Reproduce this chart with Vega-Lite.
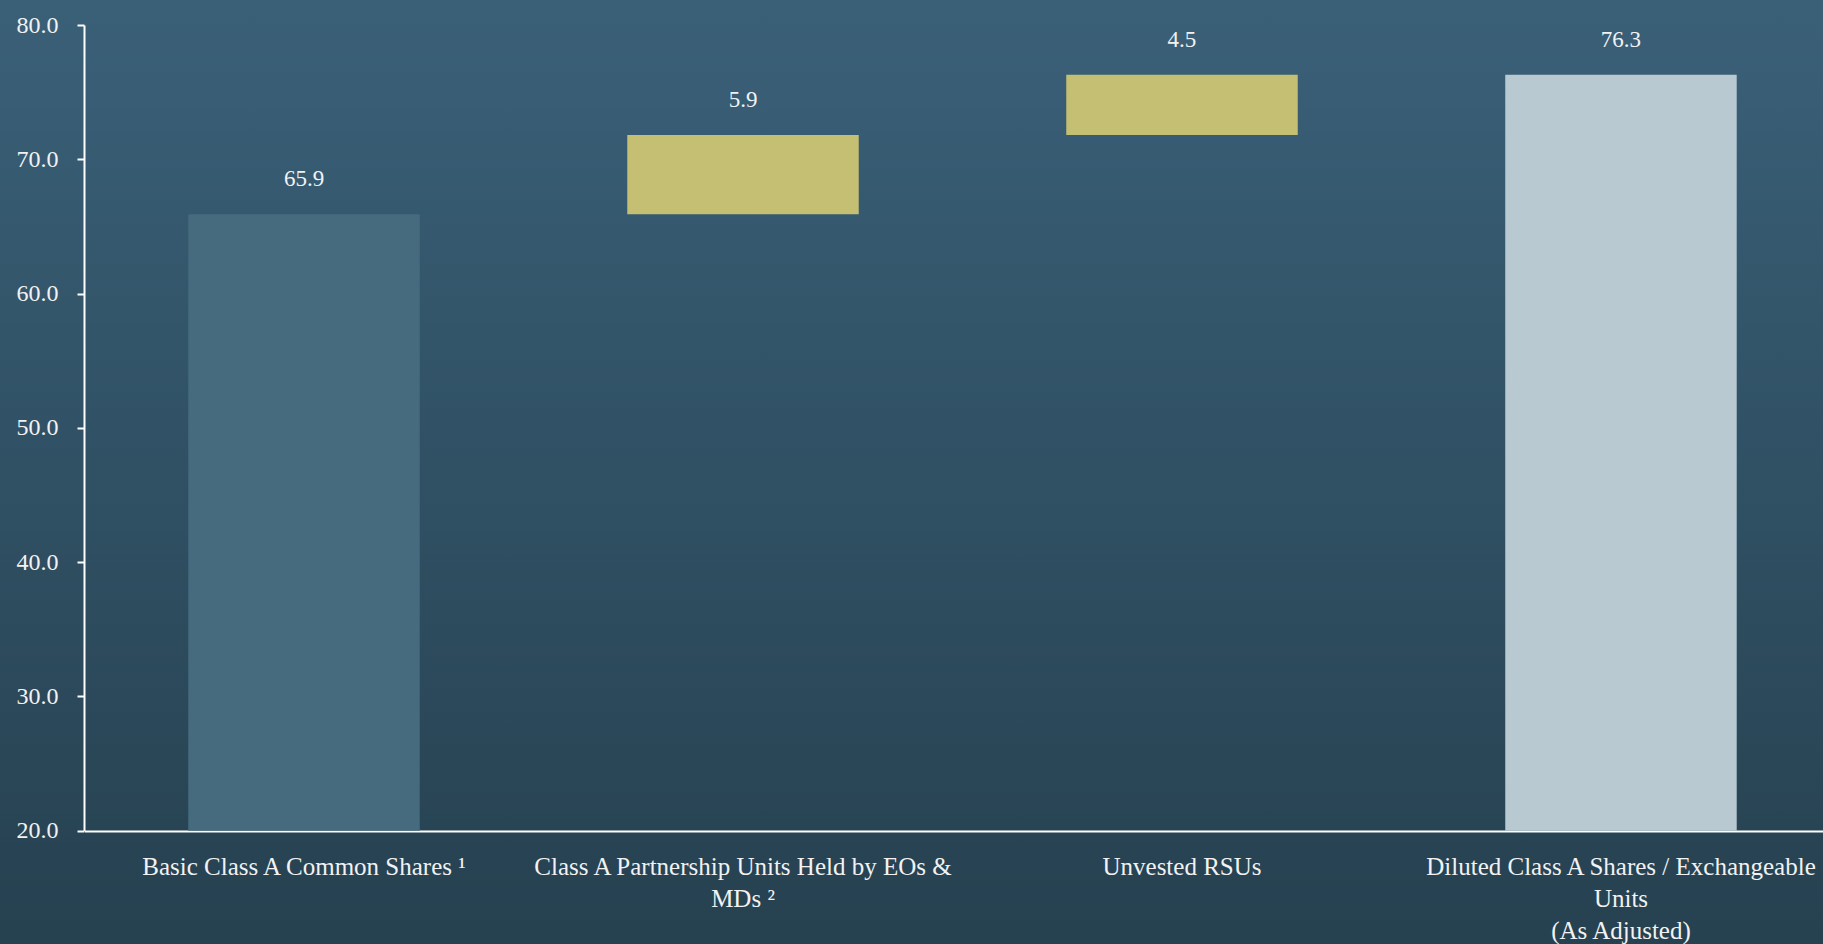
{
  "$schema": "https://vega.github.io/schema/vega-lite/v6.json",
  "width": 1823,
  "height": 944,
  "autosize": {"type": "none"},
  "padding": 0,
  "background": "#2f4f63",
  "view": {
    "stroke": null,
    "fill": {
      "gradient": "linear",
      "x1": 0, "y1": 0, "x2": 0, "y2": 1,
      "stops": [
        {"offset": 0, "color": "#3a6078"},
        {"offset": 1, "color": "#264150"}
      ]
    }
  },
  "config": {"font": "Liberation Serif, serif"},
  "data": {
    "values": [
      {"category": "Basic Class A Common Shares ¹", "start": 0, "end": 65.9, "value": 65.9, "kind": "base"},
      {"category": "Class A Partnership Units Held by EOs &|MDs ²", "start": 65.9, "end": 71.8, "value": 5.9, "kind": "increase"},
      {"category": "Unvested RSUs", "start": 71.8, "end": 76.3, "value": 4.5, "kind": "increase"},
      {"category": "Diluted Class A Shares / Exchangeable|Units|(As Adjusted)", "start": 0, "end": 76.3, "value": 76.3, "kind": "total"}
    ]
  },
  "encoding": {
    "x": {
      "field": "category",
      "type": "nominal",
      "sort": null,
      "scale": {"type": "band", "range": [84.5, 1840.5], "paddingInner": 0.4727, "paddingOuter": 0.2364},
      "axis": {
        "orient": "bottom",
        "offset": -113,
        "title": null,
        "ticks": false,
        "domainColor": "#ffffff",
        "domainWidth": 2,
        "labelColor": "#f2f2f2",
        "labelFont": "Liberation Serif, serif",
        "labelFontSize": 25,
        "labelPadding": 23,
        "labelLineHeight": 32,
        "labelLimit": 0,
        "labelAngle": 0,
        "labelOverlap": false,
        "labelBaseline": "top",
        "labelExpr": "split(datum.label, '|')"
      }
    },
    "y": {
      "field": "end",
      "type": "quantitative",
      "scale": {"domain": [20, 80], "range": [830.7, 25], "clamp": true, "zero": false, "nice": false},
      "axis": {
        "title": null,
        "offset": -84,
        "values": [20, 30, 40, 50, 60, 70, 80],
        "format": ".1f",
        "grid": false,
        "domainColor": "#ffffff",
        "domainWidth": 2,
        "tickColor": "#ffffff",
        "tickWidth": 2,
        "tickSize": 7,
        "labelColor": "#f2f2f2",
        "labelFont": "Liberation Serif, serif",
        "labelFontSize": 24,
        "labelPadding": 19
      }
    }
  },
  "layer": [
    {
      "mark": {"type": "bar"},
      "encoding": {
        "y2": {"field": "start"},
        "color": {
          "field": "kind",
          "type": "nominal",
          "scale": {"domain": ["base", "increase", "total"], "range": ["#466a7e", "#c4bf72", "#b8c9d1"]},
          "legend": null
        }
      }
    },
    {
      "mark": {"type": "text", "dy": -35, "fontSize": 23, "color": "#f2f2f2", "font": "Liberation Serif, serif", "baseline": "middle"},
      "encoding": {
        "text": {"field": "value", "type": "quantitative", "format": ".1f"}
      }
    }
  ]
}
